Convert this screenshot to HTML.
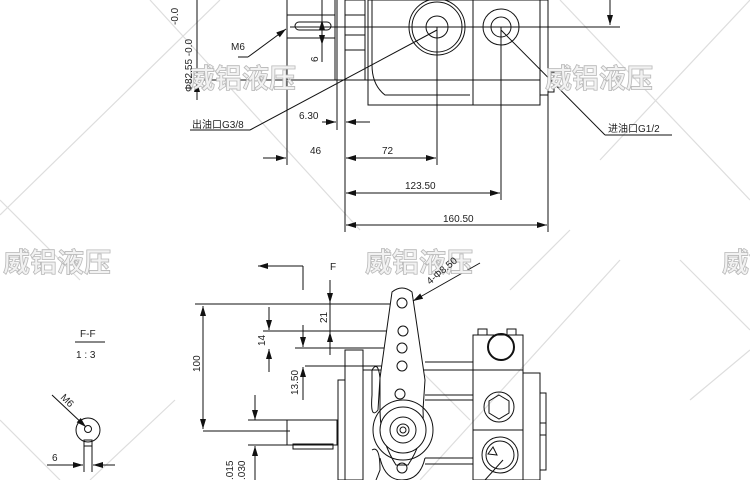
<!DOCTYPE html>
<html><head><meta charset="utf-8"><style>
html,body{margin:0;padding:0;background:#fff}
svg{display:block}
text{font-family:"Liberation Sans","Noto Sans CJK SC",sans-serif;fill:#222}
.wm{font-family:"Noto Sans CJK SC","WenQuanYi Zen Hei",sans-serif;font-size:27px;font-weight:bold;fill:#f2f2f2;stroke:#b8b8b8;stroke-width:0.8}
</style></head><body>
<svg width="750" height="480" viewBox="0 0 750 480" xmlns="http://www.w3.org/2000/svg">
<defs>
<marker id="a" viewBox="0 0 10 6" refX="10" refY="3" markerWidth="10" markerHeight="6" orient="auto-start-reverse" markerUnits="userSpaceOnUse"><path d="M0,0 L10,3 L0,6 z" fill="#111"/></marker>
</defs>
<!-- faint diagonal watermark lines -->
<g stroke="#ddd" stroke-width="1.2" fill="none">
<line x1="0" y1="215" x2="220" y2="0"/><line x1="150" y1="0" x2="360" y2="230"/>
<line x1="560" y1="0" x2="750" y2="200"/><line x1="600" y1="160" x2="750" y2="0"/>
<line x1="420" y1="480" x2="620" y2="260"/><line x1="0" y1="200" x2="80" y2="280"/>
<line x1="680" y1="260" x2="750" y2="330"/><line x1="90" y1="480" x2="175" y2="400"/>
<line x1="0" y1="420" x2="60" y2="480"/><line x1="690" y1="400" x2="750" y2="350"/>
<line x1="510" y1="290" x2="570" y2="230"/><line x1="400" y1="350" x2="470" y2="420"/>
</g>
<g stroke="#111" stroke-width="1" fill="none">
<!-- TOP VIEW -->
<line x1="197" y1="0" x2="197" y2="100"/>
<line x1="197" y1="80" x2="540" y2="80"/>
<line x1="290" y1="27" x2="620" y2="27"/>
<line x1="287" y1="0" x2="287" y2="165"/>
<rect x="287" y="15" width="48" height="23"/>
<rect x="295" y="22" width="36" height="8" rx="4"/>
<line x1="335" y1="0" x2="335" y2="80"/>
<line x1="322" y1="0" x2="322" y2="62"/>
<line x1="248" y1="57" x2="286" y2="29" marker-end="url(#a)"/>
<line x1="238" y1="57" x2="248" y2="57"/>
<line x1="345" y1="0" x2="345" y2="232"/>
<rect x="345" y="0" width="20" height="80"/>
<line x1="345" y1="15" x2="365" y2="15"/><line x1="345" y1="35" x2="365" y2="35"/><line x1="345" y1="50" x2="365" y2="50"/>
<rect x="368" y="0" width="105" height="105"/>
<path d="M372,0 V65 Q372,85 385,95 L470,95"/>
<circle cx="437" cy="27" r="28"/><circle cx="437" cy="27" r="25"/><circle cx="437" cy="27" r="11"/>
<rect x="473" y="0" width="67" height="105"/>
<line x1="473" y1="80" x2="540" y2="80"/>
<circle cx="501" cy="27" r="18"/><circle cx="501" cy="27" r="10"/>
<rect x="540" y="0" width="8" height="95"/>
<rect x="548" y="72" width="6" height="20"/>
<line x1="610" y1="0" x2="610" y2="25" marker-end="url(#a)"/>
<line x1="437" y1="30" x2="250" y2="130"/><line x1="190" y1="130" x2="250" y2="130"/>
<line x1="501" y1="30" x2="605" y2="135"/><line x1="605" y1="135" x2="672" y2="135"/>
<line x1="437" y1="27" x2="437" y2="165"/>
<line x1="501" y1="27" x2="501" y2="200"/>
<line x1="548" y1="95" x2="548" y2="232"/>
<line x1="337" y1="0" x2="337" y2="130"/>
<line x1="322" y1="122" x2="336" y2="122" marker-end="url(#a)"/><line x1="370" y1="122" x2="346" y2="122" marker-end="url(#a)"/>
<line x1="263" y1="158" x2="286" y2="158" marker-end="url(#a)"/><line x1="346" y1="158" x2="436" y2="158" marker-start="url(#a)" marker-end="url(#a)"/>
<line x1="346" y1="193" x2="500" y2="193" marker-start="url(#a)" marker-end="url(#a)"/>
<line x1="346" y1="225" x2="547" y2="225" marker-start="url(#a)" marker-end="url(#a)"/>
<line x1="322" y1="20" x2="322" y2="45" marker-start="url(#a)" marker-end="url(#a)"/>
<line x1="197" y1="100" x2="197" y2="82" marker-end="url(#a)"/>
<!-- BOTTOM VIEW -->
<line x1="258" y1="266" x2="303" y2="266" marker-start="url(#a)"/><line x1="303" y1="266" x2="303" y2="290"/>
<line x1="330" y1="280" x2="330" y2="303" marker-end="url(#a)"/><line x1="330" y1="355" x2="330" y2="332" marker-end="url(#a)"/>
<line x1="330" y1="303" x2="330" y2="332"/>
<line x1="195" y1="304" x2="400" y2="304"/>
<line x1="263" y1="331" x2="400" y2="331"/>
<line x1="295" y1="348" x2="400" y2="348"/>
<line x1="305" y1="366" x2="400" y2="366"/>
<line x1="203" y1="431" x2="290" y2="431"/>
<line x1="203" y1="306" x2="203" y2="429" marker-start="url(#a)" marker-end="url(#a)"/>
<line x1="269" y1="307" x2="269" y2="330" marker-end="url(#a)"/><line x1="269" y1="372" x2="269" y2="349" marker-end="url(#a)"/>
<line x1="303" y1="325" x2="303" y2="347" marker-end="url(#a)"/><line x1="303" y1="400" x2="303" y2="367" marker-end="url(#a)"/>
<line x1="255" y1="395" x2="255" y2="420" marker-end="url(#a)"/>
<line x1="255" y1="480" x2="255" y2="446" marker-end="url(#a)"/>
<line x1="248" y1="420" x2="295" y2="420"/><line x1="248" y1="445" x2="295" y2="445"/>
<rect x="287" y="420" width="50" height="25"/>
<rect x="293" y="444" width="40" height="5"/>
<rect x="345" y="350" width="18" height="130"/>
<rect x="338" y="380" width="7" height="100"/>
<line x1="363" y1="370" x2="473" y2="370"/><line x1="425" y1="362" x2="473" y2="362"/>
<line x1="425" y1="395" x2="473" y2="395"/><line x1="425" y1="400" x2="473" y2="400"/>
<line x1="425" y1="458" x2="473" y2="458"/><line x1="425" y1="464" x2="473" y2="464"/>
<path d="M372,370 Q378,360 380,378 L378,410 Q370,420 372,395 z"/>
<path d="M372,450 Q380,445 380,470 L376,480"/>
<path d="M392,292 Q402,284 412,292 L425,380 L423,410 Q425,440 408,465 L396,465 Q380,440 380,410 L380,378 z" fill="#fff"/>
<circle cx="402" cy="303" r="5"/><circle cx="403" cy="331" r="5"/><circle cx="402" cy="348" r="5"/><circle cx="402" cy="366" r="5"/><circle cx="400" cy="394" r="5"/>
<circle cx="403" cy="430" r="30"/><circle cx="403" cy="430" r="23" fill="#fff"/><circle cx="403" cy="430" r="13"/><circle cx="403" cy="430" r="6"/><circle cx="403" cy="430" r="3"/>
<circle cx="402" cy="468" r="5"/>
<path d="M380,458 Q385,480 402,480 Q420,480 425,458"/>
<rect x="473" y="335" width="50" height="145"/>
<rect x="478" y="329" width="9" height="6"/><rect x="507" y="329" width="9" height="6"/>
<line x1="473" y1="370" x2="523" y2="370"/><line x1="473" y1="430" x2="523" y2="430"/>
<circle cx="501" cy="347" r="13" stroke-width="2"/>
<circle cx="499" cy="407" r="15"/><polygon points="499,395 509,401 509,413 499,419 489,413 489,401"/>
<circle cx="500" cy="455" r="18"/><circle cx="500" cy="455" r="14"/>
<path d="M493,447 L488,454 L497,455 z"/>
<line x1="503" y1="460" x2="485" y2="480"/>
<rect x="523" y="373" width="17" height="107"/>
<rect x="540" y="393" width="6" height="77"/>
<rect x="540" y="423" width="6" height="12"/>
<line x1="480" y1="263" x2="413" y2="301" marker-end="url(#a)"/>
<!-- F-F section -->
<line x1="75" y1="342" x2="105" y2="342"/>
<circle cx="88" cy="430" r="12"/><circle cx="88" cy="429" r="3.5"/>
<line x1="84" y1="442" x2="84" y2="472"/><line x1="92" y1="442" x2="92" y2="472"/>
<rect x="84" y="440" width="8" height="6"/>
<line x1="52" y1="395" x2="86" y2="427" marker-end="url(#a)"/>
<line x1="47" y1="465" x2="83" y2="465" marker-end="url(#a)"/><line x1="115" y1="465" x2="93" y2="465" marker-end="url(#a)"/>
</g>
<!-- watermarks -->
<text class="wm" x="188" y="88">威铝液压</text>
<text class="wm" x="545" y="88">威铝液压</text>
<text class="wm" x="365" y="272">威铝液压</text>
<text class="wm" x="3" y="272">威铝液压</text>
<text class="wm" x="722" y="272">威铝液压</text>
<!-- labels -->
<g font-size="10">
<text x="231" y="50">M6</text>
<text x="192" y="128">出油口G3/8</text>
<text x="608" y="132">进油口G1/2</text>
<text x="299" y="119">6.30</text>
<text x="310" y="154">46</text>
<text x="382" y="154">72</text>
<text x="405" y="189">123.50</text>
<text x="443" y="222">160.50</text>
<text x="0" y="0" transform="translate(318,62) rotate(-90)">6</text>
<text x="0" y="0" transform="translate(192,92) rotate(-90)">Φ82.55 -0.0</text>
<text x="0" y="0" transform="translate(178,25) rotate(-90)">-0.0</text>
<text x="330" y="270">F</text>
<text x="0" y="0" transform="translate(327,323) rotate(-90)">21</text>
<text x="0" y="0" transform="translate(265,346) rotate(-90)">14</text>
<text x="0" y="0" transform="translate(298,395) rotate(-90)">13.50</text>
<text x="0" y="0" transform="translate(200,372) rotate(-90)">100</text>
<text x="0" y="0" transform="translate(233,480) rotate(-90)">.015</text>
<text x="0" y="0" transform="translate(245,480) rotate(-90)">.030</text>
<text x="0" y="0" transform="translate(430,285) rotate(-40)">4-Φ8.50</text>
<text x="80" y="337">F-F</text>
<text x="76" y="358">1 : 3</text>
<text x="0" y="0" transform="translate(60,398) rotate(45)">M6</text>
<text x="52" y="461">6</text>
</g>
</svg>
</body></html>
